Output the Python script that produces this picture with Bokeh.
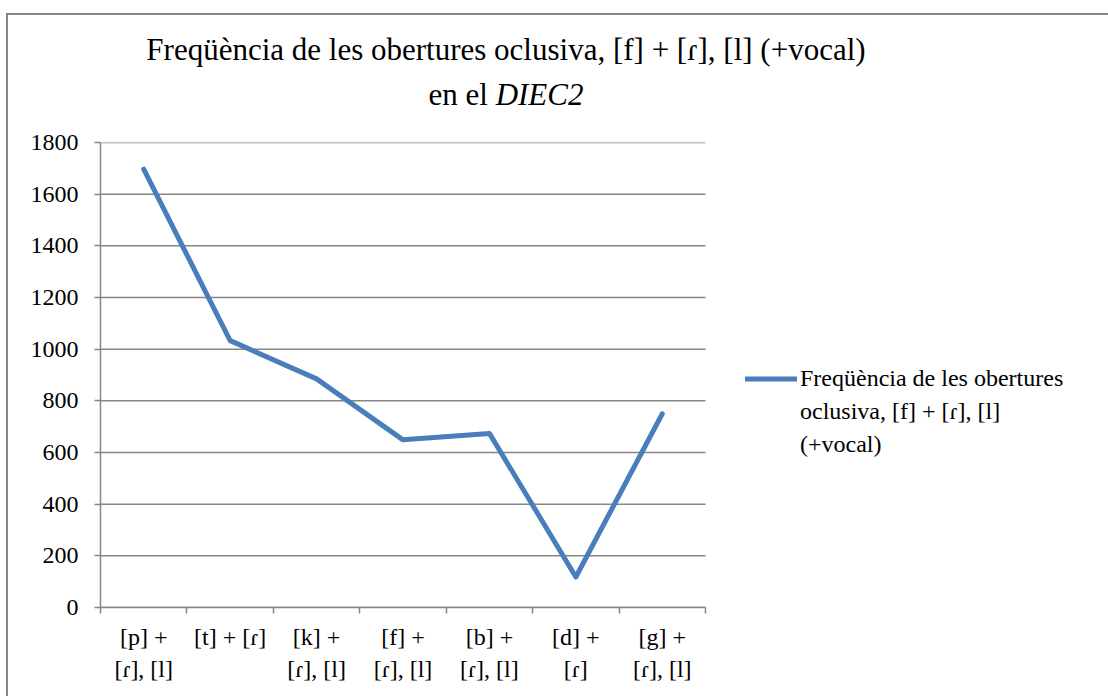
from bokeh.plotting import figure
from bokeh.models import (Range1d, FixedTicker, LinearAxis, Legend, LegendItem, Div)
from bokeh.layouts import column, row
from bokeh.embed import file_html
from bokeh.resources import INLINE

# ---- data ----
line1_labels = ["[p] +", "[t] + [ɾ]", "[k] +", "[f] +", "[b] +", "[d] +", "[g] +"]
line2_labels = ["[ɾ], [l]", "", "[ɾ], [l]", "[ɾ], [l]", "[ɾ], [l]", "[ɾ]", "[ɾ], [l]"]
values = [1697, 1033, 885, 649, 674, 118, 750]
y_ticks = [0, 200, 400, 600, 800, 1000, 1200, 1400, 1600, 1800]
series_name = ["Freqüència de les obertures", "oclusiva, [f] + [ɾ], [l]", "(+vocal)"]
title_line1 = "Freqüència de les obertures oclusiva, [f] + [ɾ], [l] (+vocal)"
title_line2_a = "en el"
title_line2_b = "DIEC2"

FONT = "Liberation Serif"
GREY = "#868686"
BLUE = "#4A7EBB"

n = len(values)
xs = [i + 0.5 for i in range(n)]

FIG_W, FIG_H = 1100, 576
LEFT, TOP, BOTTOM = 92, 22, 89
PLOT_W = 605                       # pixel width of the category area
frame_w = FIG_W - LEFT             # frame runs to the right edge (legend lives there)
x_end = n * frame_w / PLOT_W

p = figure(width=FIG_W, height=FIG_H, output_backend="svg", toolbar_location=None,
           x_range=Range1d(0, x_end), y_range=Range1d(0, 1800),
           min_border_left=LEFT, min_border_top=TOP, min_border_right=0,
           min_border_bottom=BOTTOM, x_axis_type=None, y_axis_type=None)
p.outline_line_color = None
p.background_fill_color = "white"
p.border_fill_color = "white"
p.xgrid.visible = False
p.ygrid.visible = False

# y axis
yax = LinearAxis(ticker=FixedTicker(ticks=y_ticks, minor_ticks=[]))
yax.axis_line_color = GREY
yax.axis_line_width = 1.5
yax.major_tick_line_color = GREY
yax.major_tick_line_width = 1.5
yax.major_tick_in = 0
yax.major_tick_out = 6
yax.minor_tick_line_color = None
yax.major_label_standoff = 16
yax.major_label_text_font = FONT
yax.major_label_text_font_size = "24px"
yax.major_label_text_color = "black"
p.add_layout(yax, "left")

# x axis line 1 (boundary ticks drawn as minor ticks)
xax1 = LinearAxis(ticker=FixedTicker(ticks=xs, minor_ticks=list(range(n + 1))),
                  bounds=(0, n))
xax1.major_label_overrides = {x: lab for x, lab in zip(xs, line1_labels)}
xax1.axis_line_color = GREY
xax1.axis_line_width = 1.5
xax1.major_tick_line_color = None
xax1.major_tick_in = 0
xax1.major_tick_out = 0
xax1.minor_tick_line_color = GREY
xax1.minor_tick_line_width = 1.5
xax1.minor_tick_in = 0
xax1.minor_tick_out = 6
xax1.major_label_standoff = 10
xax1.major_label_text_font = FONT
xax1.major_label_text_font_size = "24px"
xax1.major_label_text_color = "black"
p.add_layout(xax1, "below")

# x axis line 2
xax2 = LinearAxis(ticker=FixedTicker(ticks=xs, minor_ticks=[]), bounds=(0, n))
xax2.major_label_overrides = {x: lab for x, lab in zip(xs, line2_labels)}
xax2.axis_line_color = None
xax2.major_tick_line_color = None
xax2.minor_tick_line_color = None
xax2.major_tick_in = 0
xax2.major_tick_out = 0
xax2.major_label_standoff = 3
xax2.major_label_text_font = FONT
xax2.major_label_text_font_size = "24px"
xax2.major_label_text_color = "black"
p.add_layout(xax2, "below")

# horizontal gridlines limited to the category area
p.segment(x0=[0] * len(y_ticks), x1=[n] * len(y_ticks), y0=y_ticks, y1=y_ticks,
          line_color=GREY, line_width=1.5)

r = p.line(xs, values, line_color=BLUE, line_width=5, line_join="round", line_cap="round")
r_blank = p.line(xs, values, line_alpha=0, line_width=0)

legend = Legend(items=[LegendItem(label=series_name[0], renderers=[r]),
                       LegendItem(label=series_name[1], renderers=[r_blank]),
                       LegendItem(label=series_name[2], renderers=[r_blank])],
                location=(645, 146), orientation="vertical",
                glyph_width=52, glyph_height=33, label_height=33, spacing=0,
                padding=0, margin=0, label_standoff=3,
                border_line_color=None, background_fill_alpha=0,
                label_text_font=FONT, label_text_font_size="24px",
                label_text_color="black")
p.add_layout(legend, "center")

# title block with the chart's outer border (top edge)
title_html = (
    '<div style="height:13px"></div>'
    '<div style="margin-left:6px;width:1102px;height:107px;'
    'border-top:2px solid %s;border-left:2px solid %s;box-sizing:border-box;">'
    '<div style="width:996px;padding-top:12px;text-align:center;'
    "font-family:'Liberation Serif';font-size:31px;line-height:45px;color:black;\">"
    '%s<br>%s <i>%s</i></div></div>'
) % (GREY, GREY, title_line1, title_line2_a, title_line2_b)
title_div = Div(text=title_html, width=1108, height=120,
                styles={"margin": "0", "padding": "0"})

# left edge of the chart border beside the figure
edge_div = Div(text='<div style="margin-left:6px;width:2px;height:576px;background:%s"></div>' % GREY,
               width=8, height=576, styles={"margin": "0", "padding": "0"})

layout = column(title_div, row(edge_div, p, spacing=0), spacing=0)

open("out.html", "w").write(file_html(layout, INLINE))
